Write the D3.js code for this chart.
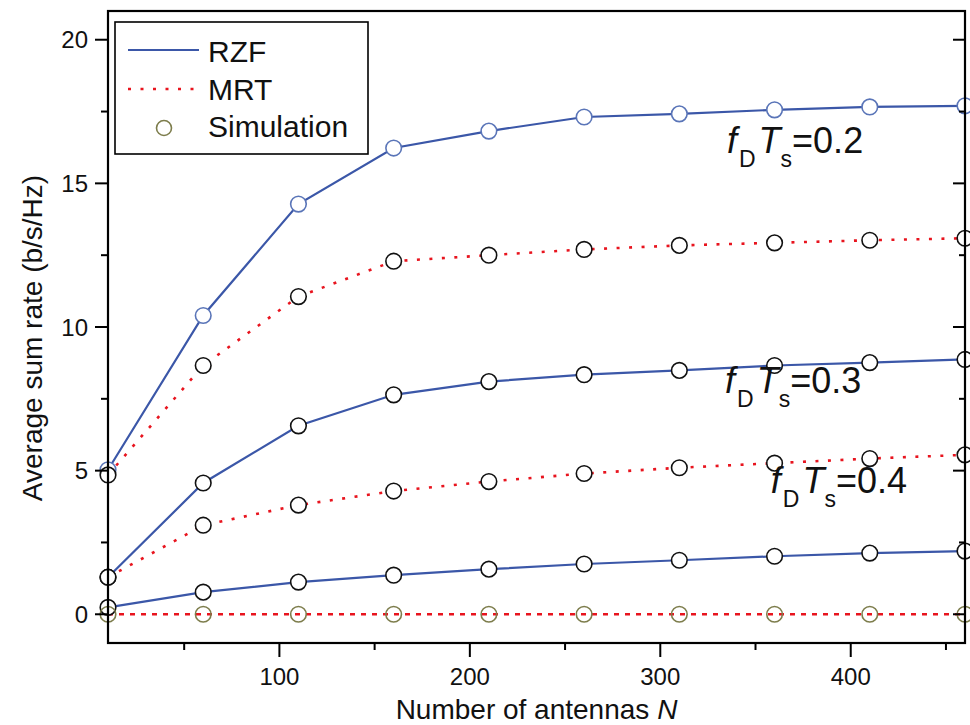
<!DOCTYPE html>
<html>
<head>
<meta charset="utf-8">
<script src="https://cdn.jsdelivr.net/npm/d3@7/dist/d3.min.js"></script>
<style>
  html, body { margin: 0; padding: 0; background: #fff; }
  svg { display: block; font-family: "Liberation Sans", Arial, Helvetica, sans-serif; }
</style>
</head>
<body>
<svg id="chart" width="970" height="725"></svg>
<script>
// Number of antennas at which the sum rate was evaluated
const antennas = [10, 60, 110, 160, 210, 260, 310, 360, 410, 460];

// Average sum rate (b/s/Hz), analysis curves and simulation points coincide
const rzf02 = [5.03, 10.4, 14.28, 16.23, 16.82, 17.31, 17.42, 17.56, 17.66, 17.7];
const mrt02 = [4.85, 8.66, 11.06, 12.29, 12.5, 12.7, 12.84, 12.93, 13.02, 13.09];
const rzf03 = [1.29, 4.57, 6.56, 7.64, 8.1, 8.34, 8.49, 8.66, 8.76, 8.87];
const mrt03 = [1.29, 3.1, 3.8, 4.29, 4.62, 4.9, 5.1, 5.26, 5.42, 5.55];
const rzf04 = [0.24, 0.77, 1.12, 1.36, 1.57, 1.75, 1.88, 2.02, 2.13, 2.2];
const mrt04 = [0, 0, 0, 0, 0, 0, 0, 0, 0, 0];

const xMajorTicks = [100, 200, 300, 400];
const xMinorTicks = [50, 150, 250, 350, 450];
const yMajorTicks = [0, 5, 10, 15, 20];
const yMinorTicks = [2.5, 7.5, 12.5, 17.5];

// Normalised Doppler labels, anchored in data coordinates
const annotations = [
  { n: 335, v: 16.06, value: "0.2" },
  { n: 334, v: 7.70, value: "0.3" },
  { n: 358, v: 4.23, value: "0.4" }
];

const BLUE = "#3b57a8";
const RED = "#e8141e";
const OLIVE = "#7d7d4c";

const svg = d3.select("#chart");
const plotLeft = 108, plotRight = 965, plotTop = 11, plotBottom = 643;

const x = d3.scaleLinear().domain([10, 460]).range([plotLeft, plotRight]);
const y = d3.scaleLinear().domain([-1, 21]).range([plotBottom, plotTop]);

const toPts = vals => antennas.map((n, i) => [n, vals[i]]);
const line = d3.line().x(d => x(d[0])).y(d => y(d[1])).curve(d3.curveLinear);

const series = [
  { vals: rzf02, kind: "rzf", mark: "#5a75b8" },
  { vals: mrt02, kind: "mrt", mark: "#111" },
  { vals: rzf03, kind: "rzf", mark: "#111" },
  { vals: mrt03, kind: "mrt", mark: "#111" },
  { vals: rzf04, kind: "rzf", mark: "#111" },
  { vals: mrt04, kind: "zero", mark: OLIVE }
];

const plot = svg.append("g");

// Curves
series.forEach(s => {
  const p = plot.append("path")
    .attr("d", line(toPts(s.vals)))
    .attr("fill", "none");
  if (s.kind === "rzf") {
    p.attr("stroke", BLUE).attr("stroke-width", 2.2);
  } else if (s.kind === "mrt") {
    p.attr("stroke", RED).attr("stroke-width", 2.6).attr("stroke-dasharray", "3,9.5");
  } else {
    p.attr("stroke", RED).attr("stroke-width", 2.6).attr("stroke-dasharray", "5,6");
  }
});

// Simulation markers
series.forEach(s => {
  plot.append("g").selectAll("circle")
    .data(toPts(s.vals))
    .join("circle")
    .attr("cx", d => x(d[0]))
    .attr("cy", d => y(d[1]))
    .attr("r", 7.8)
    .attr("fill", s.kind === "zero" ? "none" : "#fff")
    .attr("stroke", s.mark)
    .attr("stroke-width", 1.6);
});

// Frame
svg.append("rect")
  .attr("x", plotLeft).attr("y", plotTop)
  .attr("width", plotRight - plotLeft).attr("height", plotBottom - plotTop)
  .attr("fill", "none").attr("stroke", "#000").attr("stroke-width", 2.2);

// Bottom axis ticks (outward)
const axes = svg.append("g").attr("stroke", "#000").attr("stroke-width", 2);
axes.selectAll(".xM").data(xMajorTicks).join("line")
  .attr("x1", d => x(d)).attr("x2", d => x(d)).attr("y1", plotBottom).attr("y2", plotBottom + 14);
axes.selectAll(".xm").data(xMinorTicks).join("line")
  .attr("x1", d => x(d)).attr("x2", d => x(d)).attr("y1", plotBottom).attr("y2", plotBottom + 7);
// Left axis ticks (outward)
axes.selectAll(".yM").data(yMajorTicks).join("line")
  .attr("x1", plotLeft - 13).attr("x2", plotLeft).attr("y1", d => y(d)).attr("y2", d => y(d));
axes.selectAll(".ym").data(yMinorTicks).join("line")
  .attr("x1", plotLeft - 7).attr("x2", plotLeft).attr("y1", d => y(d)).attr("y2", d => y(d));
// Right axis ticks (inward)
axes.selectAll(".rM").data(yMajorTicks).join("line")
  .attr("x1", plotRight - 12).attr("x2", plotRight).attr("y1", d => y(d)).attr("y2", d => y(d));
axes.selectAll(".rm").data(yMinorTicks).join("line")
  .attr("x1", plotRight - 6).attr("x2", plotRight).attr("y1", d => y(d)).attr("y2", d => y(d));

// Tick labels
svg.append("g").selectAll("text").data(xMajorTicks).join("text")
  .attr("x", d => x(d)).attr("y", 685)
  .attr("text-anchor", "middle").attr("font-size", 24).attr("fill", "#111")
  .text(d => d);
svg.append("g").selectAll("text").data(yMajorTicks).join("text")
  .attr("x", 88).attr("y", d => y(d) + 8.5)
  .attr("text-anchor", "end").attr("font-size", 24).attr("fill", "#111")
  .text(d => d);

// Axis titles
const xt = svg.append("text")
  .attr("x", (plotLeft + plotRight) / 2).attr("y", 719)
  .attr("text-anchor", "middle").attr("font-size", 28).attr("fill", "#111");
xt.append("tspan").text("Number of antennas ");
xt.append("tspan").attr("font-style", "italic").text("N");

svg.append("text")
  .attr("transform", "translate(42,338) rotate(-90)")
  .attr("text-anchor", "middle").attr("font-size", 28).attr("fill", "#111")
  .text("Average sum rate (b/s/Hz)");

// Parameter annotations
annotations.forEach(a => {
  const t = svg.append("text")
    .attr("x", x(a.n)).attr("y", y(a.v))
    .attr("font-size", 36).attr("fill", "#111");
  t.append("tspan").attr("font-style", "italic").text("f");
  t.append("tspan").attr("font-size", 23).attr("dy", 14).attr("dx", 2).text("D");
  t.append("tspan").attr("font-style", "italic").attr("dy", -14).attr("dx", 3).text("T");
  t.append("tspan").attr("font-size", 23).attr("dy", 14).text("s");
  t.append("tspan").attr("dy", -14).text("=" + a.value);
});

// Legend
const lg = svg.append("g");
lg.append("rect")
  .attr("x", 115).attr("y", 22).attr("width", 253).attr("height", 132)
  .attr("fill", "#fff").attr("stroke", "#000").attr("stroke-width", 1.6);
lg.append("line").attr("x1", 128).attr("x2", 199).attr("y1", 50).attr("y2", 50)
  .attr("stroke", BLUE).attr("stroke-width", 2.2);
lg.append("line").attr("x1", 128).attr("x2", 199).attr("y1", 89).attr("y2", 89)
  .attr("stroke", RED).attr("stroke-width", 2.6).attr("stroke-dasharray", "3,9.5");
lg.append("circle").attr("cx", 164).attr("cy", 128).attr("r", 7.5)
  .attr("fill", "none").attr("stroke", OLIVE).attr("stroke-width", 1.6);
const legendLabels = ["RZF", "MRT", "Simulation"];
const legendBase = [61.5, 100, 137];
lg.selectAll("text.lab").data(legendLabels).join("text")
  .attr("x", 208).attr("y", (d, i) => legendBase[i])
  .attr("font-size", 30).attr("fill", "#111")
  .text(d => d);
</script>
</body>
</html>
